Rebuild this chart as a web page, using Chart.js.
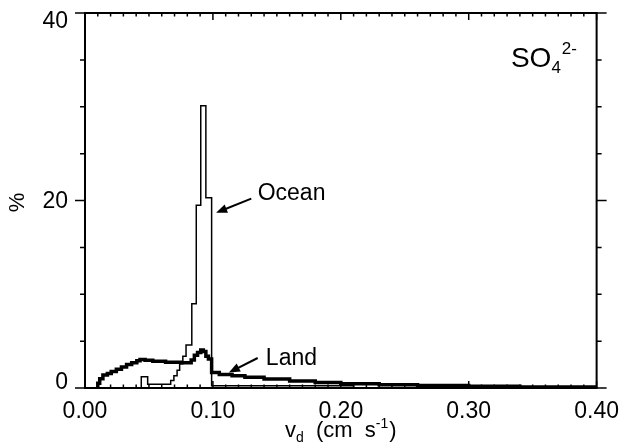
<!DOCTYPE html>
<html>
<head>
<meta charset="utf-8">
<script src="https://cdn.jsdelivr.net/npm/chart.js@4"></script>
<style>
  html, body { margin: 0; padding: 0; background: #fff; }
  canvas { display: block; }
</style>
</head>
<body>
<canvas id="vdChart" width="621" height="447"></canvas>
<script>
// Histogram bin edges (cm/s) and percentages
const oceanEdges = [0.044, 0.049, 0.067, 0.0695, 0.072, 0.074, 0.0765, 0.079, 0.0835, 0.087, 0.0905, 0.0945, 0.099, 0.21];
const oceanPct = [1.2, 0.4, 0.8, 1.3, 1.9, 2.6, 3.4, 4.6, 9.0, 19.5, 30.1, 20.3, 0.25];

const landEdges = [0.010, 0.0115, 0.014, 0.0175, 0.0205, 0.0245, 0.0285, 0.0325, 0.0365, 0.0405, 0.043,
    0.047, 0.053, 0.063, 0.075, 0.083, 0.0855, 0.088, 0.0905, 0.0925, 0.0945, 0.0965, 0.099,
    0.105, 0.115, 0.125, 0.14, 0.16, 0.18, 0.20, 0.23, 0.26, 0.30, 0.34, 0.40];
const landPct = [0.5, 1.0, 1.4, 1.55, 1.75, 2.0, 2.25, 2.5, 2.7, 2.9, 3.05, 2.95, 2.85, 2.75, 2.7,
    3.0, 3.5, 3.8, 4.05, 3.9, 3.4, 3.1, 1.65, 1.45, 1.3, 1.15, 0.95, 0.75, 0.6, 0.45, 0.35, 0.28, 0.2, 0.12];

// Axis ticks
const xTickLabels = [0, 0.1, 0.2, 0.3, 0.4];
const yTickLabels = [0, 20, 40];

const FONT = '"Liberation Sans", Arial, Helvetica, sans-serif';

// turn edges + bin values into a closed step outline
function histPoints(edges, vals) {
    const pts = [{ x: edges[0], y: 0 }];
    vals.forEach((v, i) => pts.push({ x: edges[i], y: v }));
    pts.push({ x: edges[edges.length - 1], y: 0 });
    return pts;
}

function arrow(ctx, x1, y1, x2, y2) {
    const ang = Math.atan2(y2 - y1, x2 - x1);
    ctx.lineWidth = 2;
    ctx.beginPath();
    ctx.moveTo(x1, y1);
    ctx.lineTo(x2 - 6 * Math.cos(ang), y2 - 6 * Math.sin(ang));
    ctx.stroke();
    ctx.beginPath();
    ctx.moveTo(x2, y2);
    ctx.lineTo(x2 - 11 * Math.cos(ang) + 4.5 * Math.sin(ang), y2 - 11 * Math.sin(ang) - 4.5 * Math.cos(ang));
    ctx.lineTo(x2 - 11 * Math.cos(ang) - 4.5 * Math.sin(ang), y2 - 11 * Math.sin(ang) + 4.5 * Math.cos(ang));
    ctx.closePath();
    ctx.fill();
}

const framePlugin = {
    id: 'frame',
    afterDraw(chart) {
        const { ctx, chartArea: a, scales: { x, y } } = chart;
        ctx.save();
        ctx.strokeStyle = '#000';
        ctx.fillStyle = '#000';

        // box
        ctx.lineWidth = 2;
        ctx.strokeRect(a.left, a.top, a.right - a.left, a.bottom - a.top);

        // x ticks, inward, top and bottom
        ctx.lineWidth = 1.5;
        ctx.beginPath();
        for (let i = 0; i <= 40; i++) {
            const px = x.getPixelForValue(i / 100);
            const len = i % 10 === 0 ? 7 : 3.5;
            ctx.moveTo(px, a.top); ctx.lineTo(px, a.top + len);
            ctx.moveTo(px, a.bottom); ctx.lineTo(px, a.bottom - len);
        }
        // y ticks, outward, left and right
        for (let v = 0; v <= 40; v += 5) {
            const py = y.getPixelForValue(v);
            const len = v % 20 === 0 ? 10 : 5;
            ctx.moveTo(a.left, py); ctx.lineTo(a.left - len, py);
            ctx.moveTo(a.right, py); ctx.lineTo(a.right + len, py);
        }
        ctx.stroke();

        // y tick labels
        ctx.font = '23px ' + FONT;
        ctx.textAlign = 'right';
        ctx.textBaseline = 'middle';
        yTickLabels.forEach(v => {
            const py = Math.min(Math.max(y.getPixelForValue(v), a.top + 8), a.bottom - 6);
            ctx.fillText(String(v), a.left - 17, py + 1);
        });

        // y title
        ctx.save();
        ctx.translate(18, y.getPixelForValue(20) + 2);
        ctx.rotate(-Math.PI / 2);
        ctx.textAlign = 'center';
        ctx.font = '22px ' + FONT;
        ctx.fillText('%', 0, 0);
        ctx.restore();

        // x title: v_d (cm s^-1)
        ctx.textAlign = 'left';
        ctx.textBaseline = 'alphabetic';
        const big = '22px ' + FONT, small = '14px ' + FONT;
        const parts = [
            ['v', big, 0], ['d', small, 5], ['  (cm  s', big, 0], ['-1', small, -9], [')', big, 0]
        ];
        let total = 0;
        parts.forEach(p => { ctx.font = p[1]; total += ctx.measureText(p[0]).width + (p[0] === '-1' ? 1 : 0); });
        let tx = (a.left + a.right) / 2 - total / 2;
        const ty = 437;
        parts.forEach(p => {
            ctx.font = p[1];
            ctx.fillText(p[0], tx, ty + p[2]);
            tx += ctx.measureText(p[0]).width + (p[0] === '-1' ? 1 : 0);
        });

        // SO4 2- label
        let sx = x.getPixelForValue(0.333);
        const sy = y.getPixelForValue(34.2);
        ctx.font = '28px ' + FONT;
        ctx.fillText('SO', sx, sy);
        sx += ctx.measureText('SO').width;
        ctx.font = '17px ' + FONT;
        ctx.fillText('4', sx, sy + 6);
        ctx.fillText('2-', sx + ctx.measureText('4').width + 1, sy - 13);

        // series labels with arrows
        ctx.font = '23px ' + FONT;
        ctx.fillText('Ocean', x.getPixelForValue(0.135), y.getPixelForValue(20.1));
        ctx.fillText('Land', x.getPixelForValue(0.1414), y.getPixelForValue(2.5));
        arrow(ctx, x.getPixelForValue(0.130), y.getPixelForValue(20.2), x.getPixelForValue(0.1025), y.getPixelForValue(18.7));
        arrow(ctx, x.getPixelForValue(0.135), y.getPixelForValue(3.2), x.getPixelForValue(0.1125), y.getPixelForValue(1.65));

        ctx.restore();
    }
};

const ctx = document.getElementById('vdChart').getContext('2d');
const vdChart = new Chart(ctx, {
    type: 'line',
    data: {
        datasets: [{
            label: 'Land',
            data: histPoints(landEdges, landPct),
            borderColor: '#000',
            borderWidth: 3.5,
            stepped: true,
            pointRadius: 0,
            fill: false
        }, {
            label: 'Ocean',
            data: histPoints(oceanEdges, oceanPct),
            borderColor: '#000',
            borderWidth: 1.5,
            stepped: true,
            pointRadius: 0,
            fill: false
        }]
    },
    options: {
        responsive: false,
        animation: false,
        layout: { padding: { top: 13, right: 24, left: 0, bottom: 0 } },
        plugins: { legend: { display: false }, tooltip: { enabled: false } },
        scales: {
            x: {
                type: 'linear',
                min: 0,
                max: 0.4,
                afterBuildTicks: s => { s.ticks = xTickLabels.map(v => ({ value: v })); },
                ticks: {
                    callback: v => v.toFixed(2),
                    font: { size: 23, family: FONT },
                    color: '#000',
                    padding: 2,
                    maxRotation: 0,
                    autoSkip: false
                },
                grid: { display: false },
                border: { display: false },
                afterFit: s => { s.height = 59; }
            },
            y: {
                min: 0,
                max: 40,
                ticks: { display: false },
                grid: { display: false },
                border: { display: false },
                afterFit: s => { s.width = 85; }
            }
        }
    },
    plugins: [framePlugin]
});
</script>
</body>
</html>
